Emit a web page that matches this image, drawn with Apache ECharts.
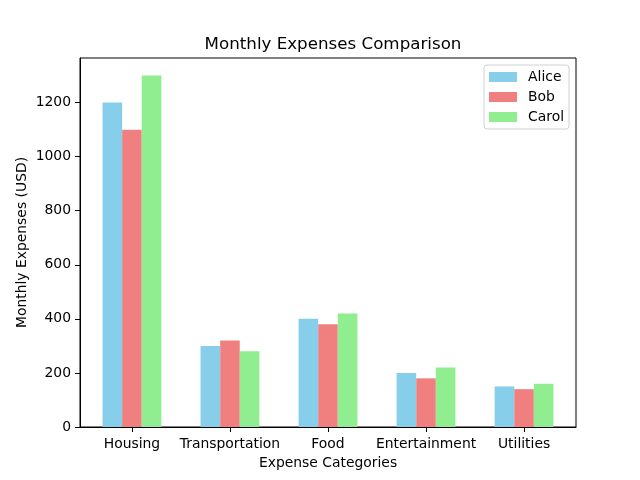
<!DOCTYPE html>
<html><head><meta charset="utf-8">
<script src="https://cdn.jsdelivr.net/npm/echarts@6/dist/echarts.min.js"></script>
<style>html,body{margin:0;padding:0;background:#fff}#c{width:640px;height:480px}</style>
</head><body><div id="c"></div>
<script>
const categories = ['Housing', 'Transportation', 'Food', 'Entertainment', 'Utilities'];
const alice = [1200, 300, 400, 200, 150];
const bob = [1100, 320, 380, 180, 140];
const carol = [1300, 280, 420, 220, 160];
const yTicks = [0, 200, 400, 600, 800, 1000, 1200];
const xTicks = categories.map((c, i) => i);

const font = 'DejaVu Sans';
const fs = 13.9;
const chart = echarts.init(document.getElementById('c'), null, {renderer: 'canvas'});
const barW = 19.6;
const pts = arr => arr.map((v, i) => [i, v]);
chart.setOption({
  animation: false,
  textStyle: {fontFamily: font},
  title: {
    text: 'Monthly Expenses Comparison', left: 328, top: 31, textAlign: 'center',
    textStyle: {fontFamily: font, fontSize: 16.7, fontWeight: 'normal', color: '#000'}
  },
  legend: {
    orient: 'vertical', right: 71, top: 65,
    icon: 'rect',
    itemWidth: 28, itemHeight: 10, itemGap: 6,
    padding: [5, 5, 5, 5],
    borderColor: '#d0d0d0', borderWidth: 1, borderRadius: 3,
    backgroundColor: 'rgba(255,255,255,0.8)',
    textStyle: {fontFamily: font, fontSize: fs, color: '#000', padding: [0, 0, 0, 6]},
    data: ['Alice', 'Bob', 'Carol']
  },
  grid: {left: 80, right: 64, top: 58, bottom: 53, show: true, borderColor: '#000', borderWidth: 1, backgroundColor: 'transparent'},
  xAxis: {
    type: 'value', min: -0.53, max: 4.53,
    name: 'Expense Categories', nameLocation: 'middle', nameGap: 29,
    nameTextStyle: {fontFamily: font, fontSize: fs, color: '#000'},
    splitLine: {show: false},
    axisLine: {show: true, onZero: false, lineStyle: {color: '#000'}},
    axisTick: {show: true, length: 5, lineStyle: {color: '#000'}, customValues: xTicks},
    axisLabel: {fontFamily: font, fontSize: fs, color: '#000', margin: 10, customValues: xTicks,
      formatter: v => categories[Math.round(v)]}
  },
  yAxis: {
    type: 'value', min: 0, max: 1365, interval: 200,
    name: 'Monthly Expenses (USD)', nameLocation: 'middle', nameGap: 51,
    nameMoveOverlap: false,
    nameTextStyle: {fontFamily: font, fontSize: fs, color: '#000'},
    splitLine: {show: false},
    axisLine: {show: true, onZero: false, lineStyle: {color: '#000'}},
    axisTick: {show: true, length: 5, lineStyle: {color: '#000'}, customValues: yTicks},
    axisLabel: {fontFamily: font, fontSize: fs, color: '#000', margin: 9, customValues: yTicks,
      formatter: function (v) { return String(v); }}
  },
  series: [
    {name: 'Alice', type: 'bar', data: pts(alice), barWidth: barW, barGap: '0%', itemStyle: {color: '#87CEEB'}},
    {name: 'Bob', type: 'bar', data: pts(bob), barWidth: barW, barGap: '0%', itemStyle: {color: '#F08080'}},
    {name: 'Carol', type: 'bar', data: pts(carol), barWidth: barW, barGap: '0%', itemStyle: {color: '#90EE90'}}
  ]
});
</script></body></html>
